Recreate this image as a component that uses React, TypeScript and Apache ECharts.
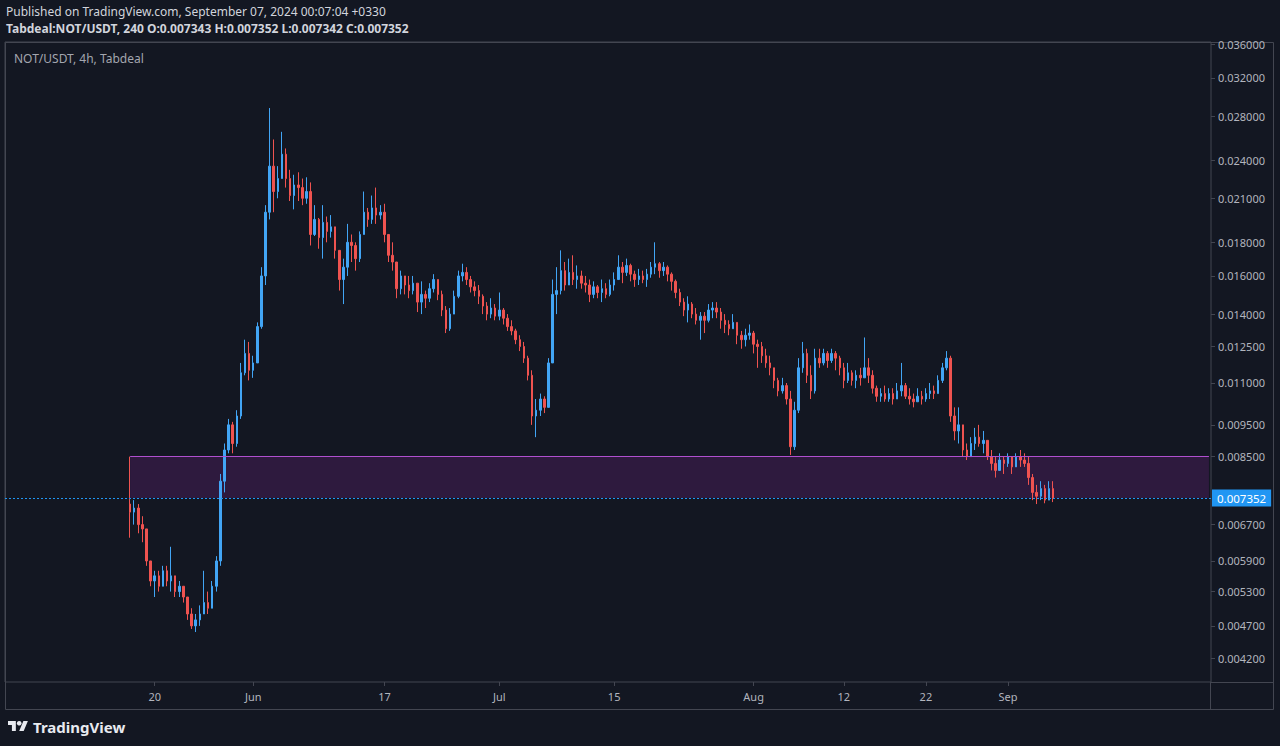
import React, { useEffect, useRef } from "react";
import * as echarts from "echarts";

// ---- data (12h candles, NOT/USDT, Tabdeal) ----
const firstOpen = 0.0072;
const firstSlot = 30; // slot index of first candle (2024-05-17 00:00)
const closes = [
  0.0070, 0.0071, 0.0067, 0.0066, 0.0059, 0.0055, 0.0056, 0.0054, 0.0057, 0.0055,
  0.0056, 0.0053, 0.0054, 0.0052, 0.0049, 0.0047, 0.0048, 0.0049, 0.0051, 0.0050,
  0.0054, 0.0059, 0.0078, 0.0087, 0.0095, 0.0089, 0.0098, 0.0114, 0.0122, 0.0115,
  0.0118, 0.0134, 0.0160, 0.0200, 0.0235, 0.0215, 0.0225, 0.0245, 0.0225, 0.0212,
  0.0220, 0.0218, 0.0210, 0.0215, 0.0185, 0.0195, 0.0183, 0.0193, 0.0187, 0.0190,
  0.0175, 0.0158, 0.0165, 0.0180, 0.0178, 0.0170, 0.0185, 0.0200, 0.0195, 0.0203,
  0.0198, 0.0200, 0.0185, 0.0172, 0.0168, 0.0153, 0.0160, 0.0155, 0.0152, 0.0156,
  0.0146, 0.0150, 0.0148, 0.0153, 0.0158, 0.0150, 0.0142, 0.0133, 0.0140, 0.0149,
  0.0160, 0.0162, 0.0158, 0.0154, 0.0152, 0.0149, 0.0144, 0.0140, 0.0143, 0.0139,
  0.0142, 0.0138, 0.0134, 0.0132, 0.0128, 0.0125, 0.0120, 0.0113, 0.0098, 0.0100,
  0.0104, 0.0101, 0.0118, 0.0150, 0.0152, 0.0163, 0.0155, 0.0162, 0.0158, 0.0160,
  0.0156, 0.0155, 0.0150, 0.0154, 0.0151, 0.0153, 0.0150, 0.0155, 0.0158, 0.0165,
  0.0162, 0.0166, 0.0161, 0.0158, 0.0160, 0.0158, 0.0161, 0.0165, 0.0167, 0.0163,
  0.0165, 0.0161, 0.0157, 0.0151, 0.0146, 0.0142, 0.0145, 0.0140, 0.0137, 0.0139,
  0.0137, 0.0142, 0.0143, 0.0141, 0.0137, 0.0135, 0.0133, 0.0136, 0.0130, 0.0128,
  0.0130, 0.0131, 0.0126, 0.0125, 0.0121, 0.0118, 0.0116, 0.0111, 0.0107, 0.0109,
  0.0104, 0.0088, 0.0100, 0.0116, 0.0122, 0.0113, 0.0107, 0.0120, 0.0118, 0.0122,
  0.0119, 0.0122, 0.0120, 0.0116, 0.0111, 0.0114, 0.0111, 0.0113, 0.0112, 0.0116,
  0.0113, 0.0108, 0.0105, 0.0106, 0.0104, 0.0106, 0.0104, 0.0107, 0.0109, 0.0105,
  0.0104, 0.0103, 0.0105, 0.0104, 0.0106, 0.0107, 0.0106, 0.0111, 0.0116, 0.0120,
  0.0098, 0.0093, 0.0095, 0.0087, 0.0085, 0.0089, 0.0091, 0.0089, 0.0090, 0.0085,
  0.0083, 0.0081, 0.0084, 0.0083, 0.0085, 0.0082, 0.0085, 0.0084, 0.0083, 0.0079,
  0.0075, 0.0074, 0.0076, 0.0073, 0.0076, 0.007352,
];
const highs = [
  0.0085, 0.0073, 0.0072, 0.0069, 0.0066, 0.0059, 0.0057, 0.0057, 0.0058, 0.0058,
  0.0062, 0.0056, 0.0055, 0.0054, 0.0052, 0.0050, 0.0049, 0.00505, 0.0057, 0.0053,
  0.0055, 0.0060, 0.0080, 0.0089, 0.0097, 0.0096, 0.0100, 0.0118, 0.0128, 0.0127,
  0.0121, 0.0136, 0.0165, 0.0205, 0.0288, 0.0258, 0.0235, 0.0265, 0.0250, 0.0232,
  0.0228, 0.0230, 0.0225, 0.0226, 0.0222, 0.0205, 0.0196, 0.0205, 0.0197, 0.0198,
  0.0190, 0.0172, 0.0170, 0.0192, 0.0185, 0.0180, 0.0187, 0.0215, 0.0203, 0.0212,
  0.0218, 0.0205, 0.0206, 0.0185, 0.0180, 0.0165, 0.0163, 0.0160, 0.0160, 0.0160,
  0.0152, 0.0157, 0.0152, 0.0156, 0.0161, 0.0157, 0.0152, 0.0144, 0.0143, 0.0152,
  0.0163, 0.0167, 0.0165, 0.0160, 0.0157, 0.0155, 0.0150, 0.0146, 0.0148, 0.0145,
  0.0151, 0.0143, 0.0140, 0.0137, 0.0133, 0.0130, 0.0127, 0.0121, 0.0115, 0.0104,
  0.0106, 0.0105, 0.0120, 0.0158, 0.0165, 0.0175, 0.0168, 0.0170, 0.0172, 0.0166,
  0.0163, 0.0160, 0.0158, 0.0157, 0.0155, 0.0158, 0.0156, 0.0158, 0.0162, 0.0172,
  0.0168, 0.0170, 0.0167, 0.0163, 0.0164, 0.0163, 0.0164, 0.0168, 0.0180, 0.0168,
  0.0168, 0.0166, 0.0162, 0.0158, 0.0153, 0.0148, 0.0149, 0.0146, 0.0143, 0.0141,
  0.0141, 0.0145, 0.0146, 0.0146, 0.0143, 0.0140, 0.0137, 0.0140, 0.0135, 0.0132,
  0.0133, 0.0135, 0.0132, 0.0128, 0.0127, 0.0124, 0.0121, 0.0116, 0.0112, 0.0112,
  0.0110, 0.0107, 0.0103, 0.0120, 0.0127, 0.0124, 0.0117, 0.0124, 0.0124, 0.0124,
  0.0123, 0.0124, 0.0123, 0.0121, 0.0118, 0.0118, 0.0115, 0.0115, 0.0116, 0.0129,
  0.0120, 0.0115, 0.0109, 0.0108, 0.0109, 0.0108, 0.0108, 0.0110, 0.0118, 0.0110,
  0.0108, 0.0106, 0.0108, 0.0107, 0.0108, 0.0110, 0.0109, 0.0113, 0.0118, 0.0123,
  0.0121, 0.0101, 0.0101, 0.0094, 0.0089, 0.0091, 0.0094, 0.0095, 0.0093, 0.0090,
  0.0087, 0.0085, 0.0086, 0.0085, 0.0086, 0.0085, 0.0086, 0.0087, 0.0086, 0.0085,
  0.0080, 0.0077, 0.0078, 0.0077, 0.0078, 0.0078,
];
const lows = [
  0.0064, 0.0067, 0.0065, 0.0063, 0.0058, 0.0054, 0.0052, 0.0053, 0.0054, 0.0054,
  0.0053, 0.0052, 0.0052, 0.0051, 0.0048, 0.00465, 0.0046, 0.0047, 0.0049, 0.0049,
  0.0050, 0.0053, 0.0058, 0.0075, 0.0086, 0.0086, 0.0088, 0.0097, 0.0113, 0.0111,
  0.0112, 0.0118, 0.0133, 0.0155, 0.0195, 0.0200, 0.0210, 0.0225, 0.0218, 0.0208,
  0.0202, 0.0208, 0.0205, 0.0206, 0.0178, 0.0184, 0.0176, 0.0170, 0.0180, 0.0183,
  0.0170, 0.0152, 0.0145, 0.0160, 0.0168, 0.0163, 0.0168, 0.0185, 0.0190, 0.0192,
  0.0192, 0.0195, 0.0180, 0.0168, 0.0163, 0.0148, 0.0150, 0.0150, 0.0148, 0.0150,
  0.0141, 0.0140, 0.0143, 0.0146, 0.0151, 0.0147, 0.0139, 0.0131, 0.0132, 0.0140,
  0.0148, 0.0157, 0.0155, 0.0151, 0.0149, 0.0145, 0.0140, 0.0137, 0.0138, 0.0137,
  0.0137, 0.0135, 0.0132, 0.0130, 0.0126, 0.0123, 0.0118, 0.0111, 0.0095, 0.0091,
  0.0098, 0.0099, 0.0101, 0.0118, 0.0140, 0.0150, 0.0152, 0.0155, 0.0155, 0.0153,
  0.0153, 0.0151, 0.0146, 0.0148, 0.0148, 0.0146, 0.0148, 0.0149, 0.0152, 0.0158,
  0.0156, 0.0160, 0.0157, 0.0154, 0.0155, 0.0156, 0.0154, 0.0159, 0.0161, 0.0159,
  0.0160, 0.0157, 0.0152, 0.0148, 0.0144, 0.0139, 0.0136, 0.0138, 0.0135, 0.0128,
  0.0131, 0.0136, 0.0138, 0.0138, 0.0133, 0.0131, 0.0130, 0.0133, 0.0126, 0.0124,
  0.0125, 0.0128, 0.0122, 0.0116, 0.0118, 0.0116, 0.0113, 0.0108, 0.0105, 0.0106,
  0.0102, 0.00855, 0.0087, 0.0099, 0.0114, 0.0110, 0.0104, 0.0106, 0.0116, 0.0117,
  0.0116, 0.0118, 0.0115, 0.0113, 0.0108, 0.0110, 0.0109, 0.0108, 0.0109, 0.0112,
  0.0110, 0.0106, 0.0103, 0.0103, 0.0103, 0.0103, 0.0102, 0.0104, 0.0105, 0.0104,
  0.0102, 0.0101, 0.0103, 0.0102, 0.0103, 0.0104, 0.0104, 0.0106, 0.0110, 0.0115,
  0.0096, 0.0090, 0.0089, 0.0085, 0.0084, 0.0085, 0.0087, 0.0088, 0.0086, 0.0084,
  0.0081, 0.0079, 0.0081, 0.0080, 0.0082, 0.0080, 0.0082, 0.0082, 0.0082, 0.0077,
  0.0073, 0.0072, 0.0073, 0.00722, 0.0073, 0.00725,
];

const yTickValues = [
  0.0042, 0.0047, 0.0053, 0.0059, 0.0067, 0.0085, 0.0095, 0.011, 0.0125,
  0.014, 0.016, 0.018, 0.021, 0.024, 0.028, 0.032, 0.036,
];
const xTickDates = [
  "2024-05-20 00:00", "2024-06-01 00:00", "2024-06-17 00:00", "2024-07-01 00:00",
  "2024-07-15 00:00", "2024-08-01 00:00", "2024-08-12 00:00", "2024-08-22 00:00",
  "2024-09-01 00:00",
];
const xTickLabels = ["20", "Jun", "17", "Jul", "15", "Aug", "12", "22", "Sep"];
const lastPrice = 0.007352;
const zoneLow = 0.007352;
const zoneHigh = 0.0085;
const yMin = 0.003862;
const yMax = 0.03629;
const slotCount = 294;
const axisStartUTC = Date.UTC(2024, 4, 2, 0, 0);

const pad = (n: number) => (n < 10 ? "0" + n : "" + n);
const slotName = (k: number) => {
  const d = new Date(axisStartUTC + k * 12 * 3600 * 1000);
  return `${d.getUTCFullYear()}-${pad(d.getUTCMonth() + 1)}-${pad(d.getUTCDate())} ${pad(d.getUTCHours())}:00`;
};

const LOGO_D = "M14 22H7V11H0V4h14v18zM28 22h-8l7.5-18h8L28 22z";
let logoRegistered = false;

export default function App() {
  const ref = useRef<HTMLDivElement>(null);

  useEffect(() => {
    if (!ref.current) return;
    if (!logoRegistered) {
      echarts.graphic.registerShape("tvlogo", echarts.graphic.extendPath(LOGO_D, {}));
      logoRegistered = true;
    }
    const chart = echarts.init(ref.current, undefined, { renderer: "svg" });
    const L = (v: number) => Math.log10(v);
    const categories: string[] = [];
    for (let k = 0; k < slotCount; k++) categories.push(slotName(k));
    const tickMap: Record<string, string> = {};
    xTickDates.forEach((d, i) => (tickMap[d] = xTickLabels[i]));

    const candles = closes.map((c, i) => {
      const o = i === 0 ? firstOpen : closes[i - 1];
      const h = Math.max(highs[i], o, c);
      const l = Math.min(lows[i], o, c);
      return [categories[firstSlot + i], L(o), L(c), L(l), L(h)];
    });

    const FONT = "'Noto Sans', 'DejaVu Sans', sans-serif";
    const frame = "#434651";

    chart.setOption({
      animation: false,
      backgroundColor: "#131722",
      grid: {
        left: 5,
        top: 42,
        right: 69,
        bottom: 64,
        show: true,
        borderColor: frame,
        borderWidth: 1,
        backgroundColor: "transparent",
      },
      xAxis: {
        type: "category",
        data: categories,
        boundaryGap: true,
        axisLine: { show: false },
        axisTick: {
          show: true,
          alignWithLabel: true,
          length: 4,
          interval: (_i: number, v: string) => v in tickMap,
          lineStyle: { color: frame },
        },
        axisLabel: {
          interval: (_i: number, v: string) => v in tickMap,
          formatter: (v: string) => tickMap[v] || "",
          color: "#b2b5be",
          fontSize: 11,
          fontFamily: FONT,
          margin: 9,
        },
        splitLine: { show: false },
      },
      yAxis: {
        type: "value",
        position: "right",
        min: L(yMin),
        max: L(yMax),
        scale: true,
        axisLine: { show: false },
        axisTick: {
          show: true,
          length: 4,
          customValues: yTickValues.map(L),
          lineStyle: { color: frame },
        },
        axisLabel: {
          customValues: yTickValues.map(L),
          formatter: (v: number) => Math.pow(10, v).toFixed(6),
          color: "#b2b5be",
          fontSize: 11,
          fontFamily: FONT,
          margin: 7,
        },
        splitLine: { show: false },
      },
      series: [
        {
          type: "candlestick",
          data: candles,
          encode: { x: 0, y: [1, 2, 3, 4] },
          barWidth: 2,
          itemStyle: {
            color: "#42a5f5",
            color0: "#ef5350",
            borderColor: "#42a5f5",
            borderColor0: "#ef5350",
            borderWidth: 1,
          },
          markArea: {
            silent: true,
            itemStyle: {
              color: "rgba(156, 39, 176, 0.2)",
              borderWidth: 0,
            },
            data: [
              [
                { xAxis: categories[firstSlot], yAxis: L(zoneLow) },
                { xAxis: categories[slotCount - 1], yAxis: L(zoneHigh) },
              ],
            ],
          },
          markLine: {
            silent: true,
            symbol: "none",
            precision: 8,
            emphasis: { disabled: true },
            data: [
              [
                {
                  xAxis: categories[firstSlot],
                  yAxis: L(zoneHigh),
                  lineStyle: { color: "#b04fcf", type: "solid", width: 1, opacity: 1 },
                  label: { show: false },
                },
                { xAxis: categories[slotCount - 1], yAxis: L(zoneHigh) },
              ],
              {
                yAxis: L(lastPrice),
                lineStyle: { color: "#2196f3", type: [2, 2], width: 1, opacity: 1 },
                label: {
                  show: true,
                  position: "end",
                  distance: 1,
                  formatter: () => lastPrice.toFixed(6),
                  color: "#ffffff",
                  backgroundColor: "#2196f3",
                  padding: [3, 5, 2, 5],
                  fontSize: 11.5,
                  fontFamily: FONT,
                },
              },
            ],
          },
        },
      ],
      graphic: [
        {
          type: "rect",
          shape: { x: 5.5, y: 42.5, width: 1268, height: 667 },
          style: { fill: "none", stroke: frame, lineWidth: 1 },
          silent: true,
        },
        {
          type: "line",
          shape: { x1: 1211, y1: 682.5, x2: 1274, y2: 682.5 },
          style: { stroke: frame, lineWidth: 1 },
          silent: true,
        },
        {
          type: "line",
          shape: { x1: 1210.5, y1: 682, x2: 1210.5, y2: 710 },
          style: { stroke: frame, lineWidth: 1 },
          silent: true,
        },
        {
          type: "text",
          x: 6,
          y: 11,
          style: {
            text: "Published on TradingView.com, September 07, 2024 00:07:04 +0330",
            fill: "#d1d4dc",
            font: `12px ${FONT}`,
            verticalAlign: "middle",
          },
        },
        {
          type: "text",
          x: 6,
          y: 28,
          style: {
            text: "Tabdeal:NOT/USDT, 240 O:0.007343 H:0.007352 L:0.007342 C:0.007352",
            fill: "#d1d4dc",
            font: `bold 12px ${FONT}`,
            verticalAlign: "middle",
          },
        },
        {
          type: "text",
          x: 14,
          y: 58,
          style: {
            text: "NOT/USDT, 4h, Tabdeal",
            fill: "#a3a6af",
            font: `12px ${FONT}`,
            verticalAlign: "middle",
          },
        },
        {
          type: "tvlogo",
          x: 8,
          y: 718.8,
          scaleX: 0.56,
          scaleY: 0.56,
          style: { fill: "#e8eaf0" },
          silent: true,
        },
        {
          type: "circle",
          shape: { cx: 19.2, cy: 723.3, r: 2.3 },
          style: { fill: "#e8eaf0" },
          silent: true,
        },
        {
          type: "text",
          x: 33,
          y: 727,
          style: {
            text: "TradingView",
            fill: "#e8eaf0",
            font: `bold 15px ${FONT}`,
            verticalAlign: "middle",
          },
        },
      ],
    });

    return () => chart.dispose();
  }, []);

  return (
    <div
      ref={ref}
      style={{ position: "fixed", left: 0, top: 0, width: 1280, height: 746 }}
    />
  );
}
